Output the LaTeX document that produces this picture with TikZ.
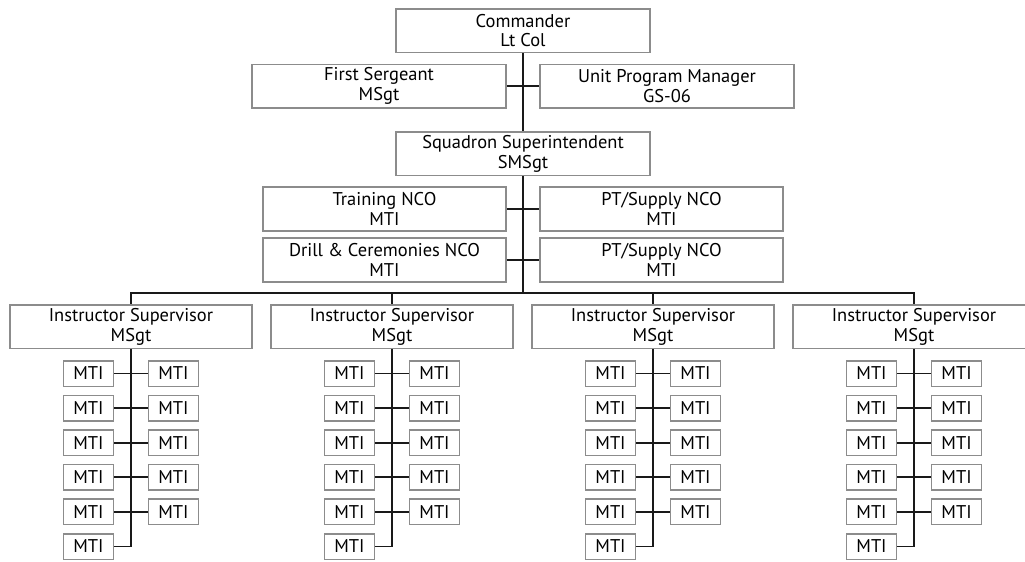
\documentclass[tikz,border=0pt]{standalone}
\usepackage{fontspec}
\setmainfont{PT Sans}
\usetikzlibrary{positioning}
\definecolor{grisCaja}{RGB}{140,140,140}
\definecolor{negro}{RGB}{25,25,25}
\tikzstyle{box}   =[draw=grisCaja, line width=0.85pt, align=center,
                    inner sep=0pt, fill=white,
                    font=\fontsize{10.5}{11.3}\selectfont]
\tikzstyle{wide}  =[box, minimum width=5.08cm, minimum height=0.87cm]
\tikzstyle{nco}   =[box, minimum width=4.86cm, minimum height=0.88cm]
\tikzstyle{isbox} =[box, minimum width=4.84cm, minimum height=0.87cm]
\tikzstyle{mti}   =[box, minimum width=1.0cm, minimum height=0.51cm]
\tikzstyle{edge}  =[draw=negro, line width=1pt]

\begin{document}
\begin{tikzpicture}
    \useasboundingbox (0,0) rectangle (20.5,-11.22);

        \begin{scope}[]
            \draw (10.46,-0.61) node (cmd) [wide] {Commander\\Lt Col};
            \draw (7.58,-1.72) node (sgt) [wide] {First Sergeant\\MSgt};
            \draw (13.34,-1.72) node (upm) [wide] {Unit Program Manager\\GS-06};
            \draw (10.46,-3.07) node (sqs) [wide] {Squadron Superintendent\\SMSgt};
            \draw (7.69,-4.18) node (trn) [nco] {Training NCO\\MTI};
            \draw (13.23,-4.18) node (pt1) [nco] {PT/Supply NCO\\MTI};
            \draw (7.69,-5.2) node (drl) [nco] {Drill \& Ceremonies NCO\\MTI};
            \draw (13.23,-5.2) node (pt2) [nco] {PT/Supply NCO\\MTI};
            \coordinate (bus) at (10.46,-5.86);

            \draw [edge] (cmd) -- (sqs);
            \draw [edge] (sqs) -- (bus);
            \foreach \i/\j in {sgt/upm,trn/pt1,drl/pt2}
                \draw [edge] (\i) -- (\j);
        \end{scope}

        % one group per instructor supervisor
        \foreach \c in {1,...,4} {
        \begin{scope}[xshift={2.62cm+5.22cm*(\c-1)}, yshift=-6.53cm]
            \draw (0,0) node (is\c) [isbox] {Instructor Supervisor\\MSgt};
            \foreach \r in {1,...,6}
                \draw (-0.85,{-0.94-0.692*(\r-1)}) node (l\c\r) [mti] {MTI};
            \foreach \r in {1,...,5}
                \draw (0.85,{-0.94-0.692*(\r-1)}) node (r\c\r) [mti] {MTI};

            \foreach \r in {1,...,5}
                \draw [edge] (l\c\r) -- (r\c\r);
            \draw [edge] (is\c.south) |- (l\c6.east);
        \end{scope}
        }

        \draw [edge] (is1.north) |- (bus) -| (is4.north);
        \draw [edge] (is2.north) -- (is2.north |- bus);
        \draw [edge] (is3.north) -- (is3.north |- bus);

\end{tikzpicture}
\end{document}
